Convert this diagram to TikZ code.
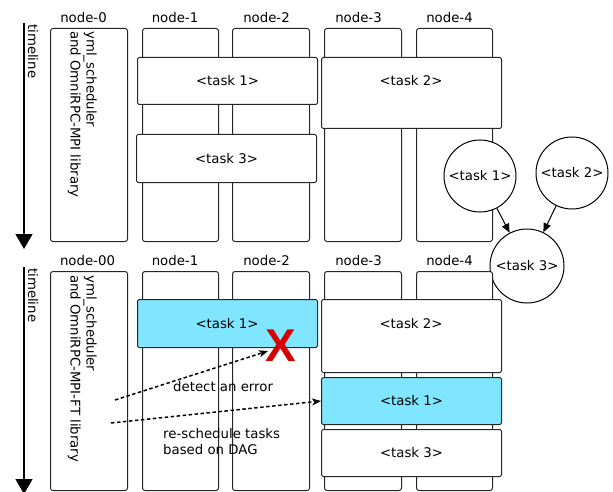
\documentclass[tikz,border=0pt]{standalone}
\usepackage{fontspec}
\setmainfont{DejaVu Sans}
\newfontfamily\xfont{Liberation Sans}
\usetikzlibrary{arrows.meta}
\definecolor{taskcyan}{HTML}{80E5FF}
\definecolor{xred}{HTML}{D40000}
\begin{document}
\begin{tikzpicture}[x=1pt,y=-1pt,
  every node/.style={font=\fontsize{13.3}{16}\selectfont, inner sep=0pt},
  col/.style={draw=black!85, rounded corners=2.5pt, line width=1pt, fill=white, anchor=north west, minimum width=77pt},
  taskbox/.style={draw=black!85, rounded corners=1.5pt, line width=1pt, fill=white, anchor=north west, minimum width=180pt},
  cyanbox/.style={taskbox, fill=taskcyan},
  dagnode/.style={draw, circle, line width=1pt, fill=white},
  timearrow/.style={line width=1.4pt, -{Triangle[length=15pt,width=17pt]}},
  dagarrow/.style={line width=1pt, -{Triangle[length=9pt,width=7.5pt]}},
  errarrow/.style={line width=1.5pt, dash pattern=on 3.5pt off 2.5pt, -{Stealth[length=9pt,width=7pt,inset=2.5pt]}},
  vtext/.style={rotate=-90, anchor=north west, align=left}
]
\useasboundingbox (0,0) rectangle (613,492);

% ---------- top section ----------
\coordinate (ta) at (24,23);
\coordinate (tb) at (24,249);
\draw[timearrow] (ta) -- (tb);
\node[rotate=-90, anchor=base west] (tl1) at (28,24) {timeline};

\node[col, minimum height=213pt] (n0) at (50,28) {};
\node[col, minimum height=213pt, minimum width=76pt] (n1) at (142,28) {};
\node[col, minimum height=213pt] (n2) at (232,28) {};
\node[col, minimum height=213pt] (n3) at (324,28) {};
\node[col, minimum height=213pt, minimum width=76pt] (n4) at (416,28) {};

\node (l0) at (83.5,18) {node-0};
\node (l1) at (175,18) {node-1};
\node (l2) at (266.5,18) {node-2};
\node (l3) at (358.5,18) {node-3};
\node (l4) at (449.5,18) {node-4};

\node[vtext] (y1) at (97,31) {yml\_scheduler\\and OmniRPC-MPI library};

\node[taskbox, minimum height=47pt] (t1) at (137,57) {};
\node (t1l) at (t1.center) {<task 1>};
\node[taskbox, minimum height=71pt] (t2) at (321,57) {};
\node (t2l) at (411,81) {<task 2>};
\node[taskbox, minimum height=48pt] (t3) at (136,134) {};
\node (t3l) at (t3.center) {<task 3>};

% ---------- DAG ----------
\node[dagnode, minimum size=72pt] (c1) at (480,176) {<task 1>};
\node[dagnode, minimum size=72pt] (c2) at (572,173) {<task 2>};
\node[dagnode, minimum size=74pt] (c3) at (527,266) {<task 3>};
\draw[dagarrow] (c1) -- (c3);
\draw[dagarrow] (c2) -- (c3);

% ---------- bottom section ----------
\coordinate (ba) at (24,267);
\coordinate (bb) at (24,494);
\draw[timearrow] (ba) -- (bb);
\node[rotate=-90, anchor=base west] (tl2) at (28,268) {timeline};

\node[col, minimum height=219pt] (m0) at (50,271) {};
\node[col, minimum height=219pt, minimum width=76pt] (m1) at (142,271) {};
\node[col, minimum height=219pt] (m2) at (232,271) {};
\node[col, minimum height=219pt] (m3) at (324,271) {};
\node[col, minimum height=219pt, minimum width=76pt] (m4) at (416,271) {};

\node (k0) at (87.5,261) {node-00};
\node (k1) at (175,261) {node-1};
\node (k2) at (266.5,261) {node-2};
\node (k3) at (358.5,261) {node-3};
\node (k4) at (449.5,261) {node-4};

\node[vtext] (y2) at (97,275) {yml\_scheduler\\and OmniRPC-MPI-FT library};

\node[cyanbox, minimum height=48pt] (b1) at (137,299) {};
\node (b1l) at (227,324) {<task 1>};
\node[taskbox, minimum height=73pt] (b2) at (321,299) {};
\node (b2l) at (411,324) {<task 2>};
\node[cyanbox, minimum height=47pt] (b1b) at (321,377) {};
\node (b1bl) at (b1b.center) {<task 1>};
\node[taskbox, minimum height=47pt] (b3) at (321,429) {};
\node (b3l) at (b3.center) {<task 3>};

\node[text=xred, font=\xfont\bfseries\fontsize{46}{46}\selectfont] (xm) at (281,346) {X};

\coordinate (e1s) at (115,400);
\coordinate (e1e) at (268,351);
\draw[errarrow] (e1s) -- (e1e);
\coordinate (e2s) at (111,423);
\draw[errarrow] (e2s) -- (b1b.west);

\node[anchor=west] (det) at (173,387) {detect an error};
\node[anchor=west, align=left] (res) at (163,441.5) {re-schedule tasks\\based on DAG};
\end{tikzpicture}
\end{document}
